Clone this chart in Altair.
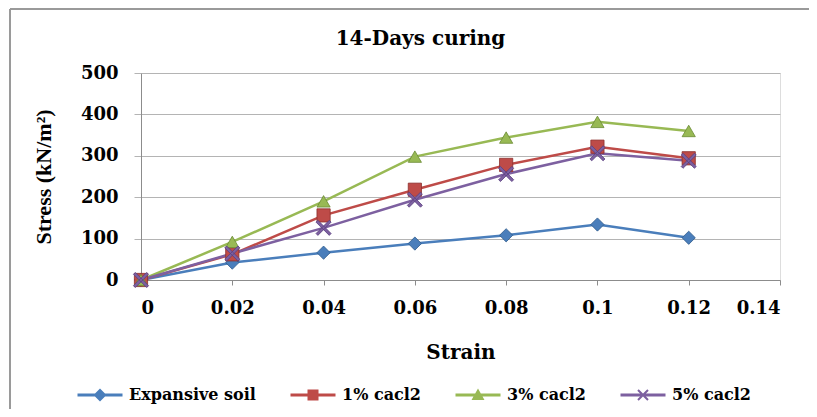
import altair as alt
import pandas as pd

# ---- data ----
strain = [0, 0.02, 0.04, 0.06, 0.08, 0.1, 0.12]
series_names = ["Expansive soil", "1% cacl2", "3% cacl2", "5% cacl2"]
expansive = [0, 42, 66, 88, 108, 134, 102]
cacl2_1 = [0, 62, 156, 218, 278, 322, 294]
cacl2_3 = [0, 92, 190, 298, 344, 382, 360]
cacl2_5 = [0, 64, 126, 194, 256, 306, 288]
x_ticks = [0, 0.02, 0.04, 0.06, 0.08, 0.1, 0.12, 0.14]
y_ticks = [0, 100, 200, 300, 400, 500]

line_colors = ["#4A7EBB", "#BE4B48", "#98B954", "#7D60A0"]
edge_colors = ["#2F5A8A", "#8C2F2C", "#6A8A33", "#5A4080"]

rows = []
for name, vals in zip(series_names, [expansive, cacl2_1, cacl2_3, cacl2_5]):
    for s, v in zip(strain, vals):
        rows.append({"series": name, "strain": s, "stress": v})
df = pd.DataFrame(rows)

X_PATH = "M-0.86,-1.14L1.14,0.86L0.86,1.14L-1.14,-0.86Z M-1.14,0.86L0.86,-1.14L1.14,-0.86L-0.86,1.14Z"
plot_shapes = ["diamond", "square", "triangle-up", X_PATH]

LINE = "M-4.5,-0.3H4.5V0.3H-4.5Z "
legend_paths = [
    LINE + "M0,-1.3L1.3,0L0,1.3L-1.3,0Z",
    LINE + "M-1.1,-1.1H1.1V1.1H-1.1Z",
    LINE + "M0,-1.3L1.3,1L-1.3,1Z",
    LINE + X_PATH,
]

SERIF = "DejaVu Serif"
GRID = "#B4B4B4"
AXIS = "#8C8C8C"
FRAME = "#9A9A9A"

color_scale = alt.Scale(domain=series_names, range=line_colors)

legend = alt.Legend(
    title=None,
    orient="none",
    direction="horizontal",
    legendX=-49,
    legendY=314,
    padding=0,
    symbolSize=100,
    symbolStrokeWidth=0,
    symbolOpacity=1,
    labelFont=SERIF,
    labelFontSize=16,
    labelFontWeight="bold",
    labelColor="#000000",
    labelOffset=21,
    columnPadding=34,
)

x_enc = alt.X(
    "strain:Q",
    scale=alt.Scale(domain=[0, 0.14], nice=False),
    axis=alt.Axis(
        values=x_ticks,
        format="~g",
        grid=False,
        tickSize=5,
        tickColor=AXIS,
        domainColor=AXIS,
        labelPadding=14,
        labelFont=SERIF,
        labelFontSize=18,
        labelFontWeight="bold",
        labelColor="#000000",
        title="Strain",
        titleFont=SERIF,
        titleFontSize=20,
        titleFontWeight="bold",
        titleColor="#000000",
        titleX=319.5,
        titleY=72,
        titleBaseline="middle",
    ),
)
y_enc = alt.Y(
    "stress:Q",
    scale=alt.Scale(domain=[0, 500], nice=False),
    axis=alt.Axis(
        values=y_ticks,
        grid=True,
        gridColor=GRID,
        tickSize=7,
        tickColor=GRID,
        domainColor=AXIS,
        labelPadding=16,
        labelFont=SERIF,
        labelFontSize=18,
        labelFontWeight="bold",
        labelColor="#000000",
        title="Stress (kN/m²)",
        titleFont="Liberation Serif",
        titleFontSize=22,
        titleFontWeight="bold",
        titleColor="#000000",
        titleX=-98,
        titleY=103.5,
        titleBaseline="middle",
    ),
)

base = alt.Chart(df)

# invisible layer that only carries the legend (line + marker symbols)
legend_layer = base.mark_point(filled=True, opacity=0, size=1).encode(
    x=x_enc,
    y=y_enc,
    color=alt.Color("series:N", scale=color_scale, legend=legend, sort=series_names),
    shape=alt.Shape("series:N", scale=alt.Scale(domain=series_names, range=legend_paths),
                    legend=legend, sort=series_names),
)

lines = base.mark_line(strokeWidth=2.5).encode(
    x="strain:Q",
    y="stress:Q",
    color=alt.Color("series:N", scale=color_scale, legend=None),
    detail="series:N",
)

point_layers = []
for name, fc, ec, shp in zip(series_names, line_colors, edge_colors, plot_shapes):
    point_layers.append(
        base.transform_filter(alt.datum.series == name)
        .mark_point(filled=True, fill=fc, stroke=ec, strokeWidth=0.8, shape=shp, size=175, opacity=1)
        .encode(x="strain:Q", y="stress:Q")
    )

# chart-area frame (top and left edges visible in the reference)
frame_df = pd.DataFrame({"f": [0]})
frame_top = alt.Chart(frame_df).mark_rule(stroke=FRAME, strokeWidth=2).encode(
    x=alt.value(-131), x2=alt.value(720), y=alt.value(-64)
)
frame_left = alt.Chart(frame_df).mark_rule(stroke=FRAME, strokeWidth=2).encode(
    x=alt.value(-131), y=alt.value(-64), y2=alt.value(420)
)

chart = (
    alt.layer(frame_top, frame_left, legend_layer, lines, *point_layers)
    .properties(
        width=639,
        height=207,
        padding={"left": 133, "top": 65, "right": 29, "bottom": 129},
        autosize=alt.AutoSizeParams(type="none"),
        title=alt.Title(
            "14-Days curing",
            font=SERIF,
            fontSize=20,
            fontWeight="bold",
            color="#000000",
            anchor="middle",
            frame="group",
            dx=-40,
            offset=-41,
        ),
    )
    .configure_view(strokeWidth=0)
    .configure(background="#FFFFFF")
)

chart.save("out.html", embed_options={"renderer": "svg", "actions": False})
